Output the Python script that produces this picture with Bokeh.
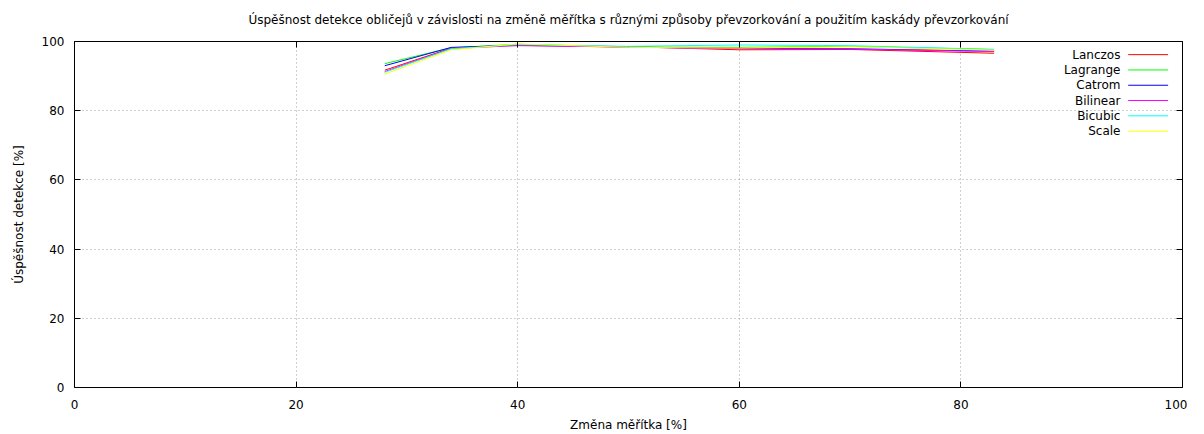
from bokeh.plotting import figure
from bokeh.models import LinearAxis, Range1d, Title, FixedTicker
from bokeh.core.properties import value
from bokeh.embed import file_html
from bokeh.resources import INLINE

# ---- data ----
scale_change = [28, 34, 40, 50, 60, 70, 83]
lanczos  = [91.7, 98.1, 99.0, 98.5, 97.6, 97.7, 96.6]
lagrange = [93.6, 98.2, 99.2, 98.4, 98.3, 98.6, 97.7]
catrom   = [93.0, 98.3, 98.9, 98.4, 98.0, 97.9, 97.2]
bilinear = [91.3, 98.0, 98.8, 98.4, 97.9, 97.8, 97.1]
bicubic  = [91.1, 97.9, 99.1, 98.6, 99.0, 98.8, 97.7]
scale    = [90.6, 97.6, 99.3, 98.3, 98.1, 98.5, 97.5]
series_names = ["Lanczos", "Lagrange", "Catrom", "Bilinear", "Bicubic", "Scale"]
series_vals = [lanczos, lagrange, catrom, bilinear, bicubic, scale]
colors = ["#ff0000", "#00ff00", "#0000ff", "#ff00ff", "#00ffff", "#ffff00"]
x_ticks = [0, 20, 40, 60, 80, 100]
y_ticks = [0, 20, 40, 60, 80, 100]

TITLE = "Úspěšnost detekce obličejů v závislosti na změně měřítka s různými způsoby převzorkování a použitím kaskády převzorkování"
X_LABEL = "Změna měřítka [%]"
Y_LABEL = "Úspěšnost detekce [%]"
FONT = "DejaVu Sans"

p = figure(output_backend="svg", toolbar_location=None,
           frame_width=1108, frame_height=346,
           x_range=Range1d(0, 100), y_range=Range1d(0, 100),
           background_fill_color="white", border_fill_color="white")
p.outline_line_color = "#000000"
p.outline_line_width = 1

for ax in (p.xaxis[0], p.yaxis[0]):
    ax.major_tick_in = 6
    ax.major_tick_out = 0
    ax.minor_tick_in = 0
    ax.minor_tick_out = 0
    ax.axis_line_color = None
    ax.major_tick_line_color = "#000000"
    ax.major_label_text_font = FONT
    ax.major_label_text_font_size = "12px"
    ax.major_label_text_color = "#000000"
    ax.axis_label_text_font = FONT
    ax.axis_label_text_font_size = "12px"
    ax.axis_label_text_font_style = "normal"
    ax.axis_label_text_color = "#000000"

p.xaxis[0].ticker = FixedTicker(ticks=x_ticks)
p.yaxis[0].ticker = FixedTicker(ticks=y_ticks)
p.xaxis[0].axis_label = X_LABEL
p.xaxis[0].major_label_standoff = 12
p.xaxis[0].axis_label_standoff = 6
p.yaxis[0].major_label_standoff = 10

# mirror ticks (no labels)
for loc, tk in (("right", y_ticks), ("above", x_ticks)):
    m = LinearAxis(ticker=FixedTicker(ticks=tk))
    m.major_tick_in = 6
    m.major_tick_out = 0
    m.minor_tick_in = 0
    m.minor_tick_out = 0
    m.axis_line_color = None
    m.major_tick_line_color = "#000000"
    m.major_label_overrides = {t: "" for t in tk}
    m.major_label_text_font_size = "1px"
    m.major_label_standoff = 0
    p.add_layout(m, loc)

p.xgrid.ticker = FixedTicker(ticks=x_ticks)
p.ygrid.ticker = FixedTicker(ticks=y_ticks)
for g in (p.xgrid[0], p.ygrid[0]):
    g.grid_line_color = "#a0a0a0"
    g.grid_line_dash = "1 3"
    g.grid_line_width = 1

for name, vals, c in zip(series_names, series_vals, colors):
    p.line(scale_change, vals, line_color=c, line_width=1)

# gnuplot-style key: label then sample line
LEG_TEXT_X = 94.4
LEG_LINE_X0 = 95.1
LEG_LINE_X1 = 98.7
LEG_TOP = 96.2
LEG_STEP = 4.42
for i, (name, c) in enumerate(zip(series_names, colors)):
    yy = LEG_TOP - i * LEG_STEP
    p.text(x=[LEG_TEXT_X], y=[yy], text=[name], text_align="right",
           text_baseline="middle", text_font=value(FONT), text_font_size="12px",
           text_color="#000000")
    p.segment(x0=[LEG_LINE_X0], y0=[yy], x1=[LEG_LINE_X1], y1=[yy],
              line_color=c, line_width=1)

t = Title(text=TITLE, align="center", vertical_align="top", text_font=FONT,
          text_font_size="12px", text_font_style="normal",
          text_color="#000000", standoff=25)
p.add_layout(t, "above")

yt = Title(text=Y_LABEL, align="center", vertical_align="top", text_font=FONT,
           text_font_size="12px", text_font_style="normal",
           text_color="#000000", standoff=22)
p.add_layout(yt, "left")

open("out.html", "w").write(file_html(p, INLINE))
